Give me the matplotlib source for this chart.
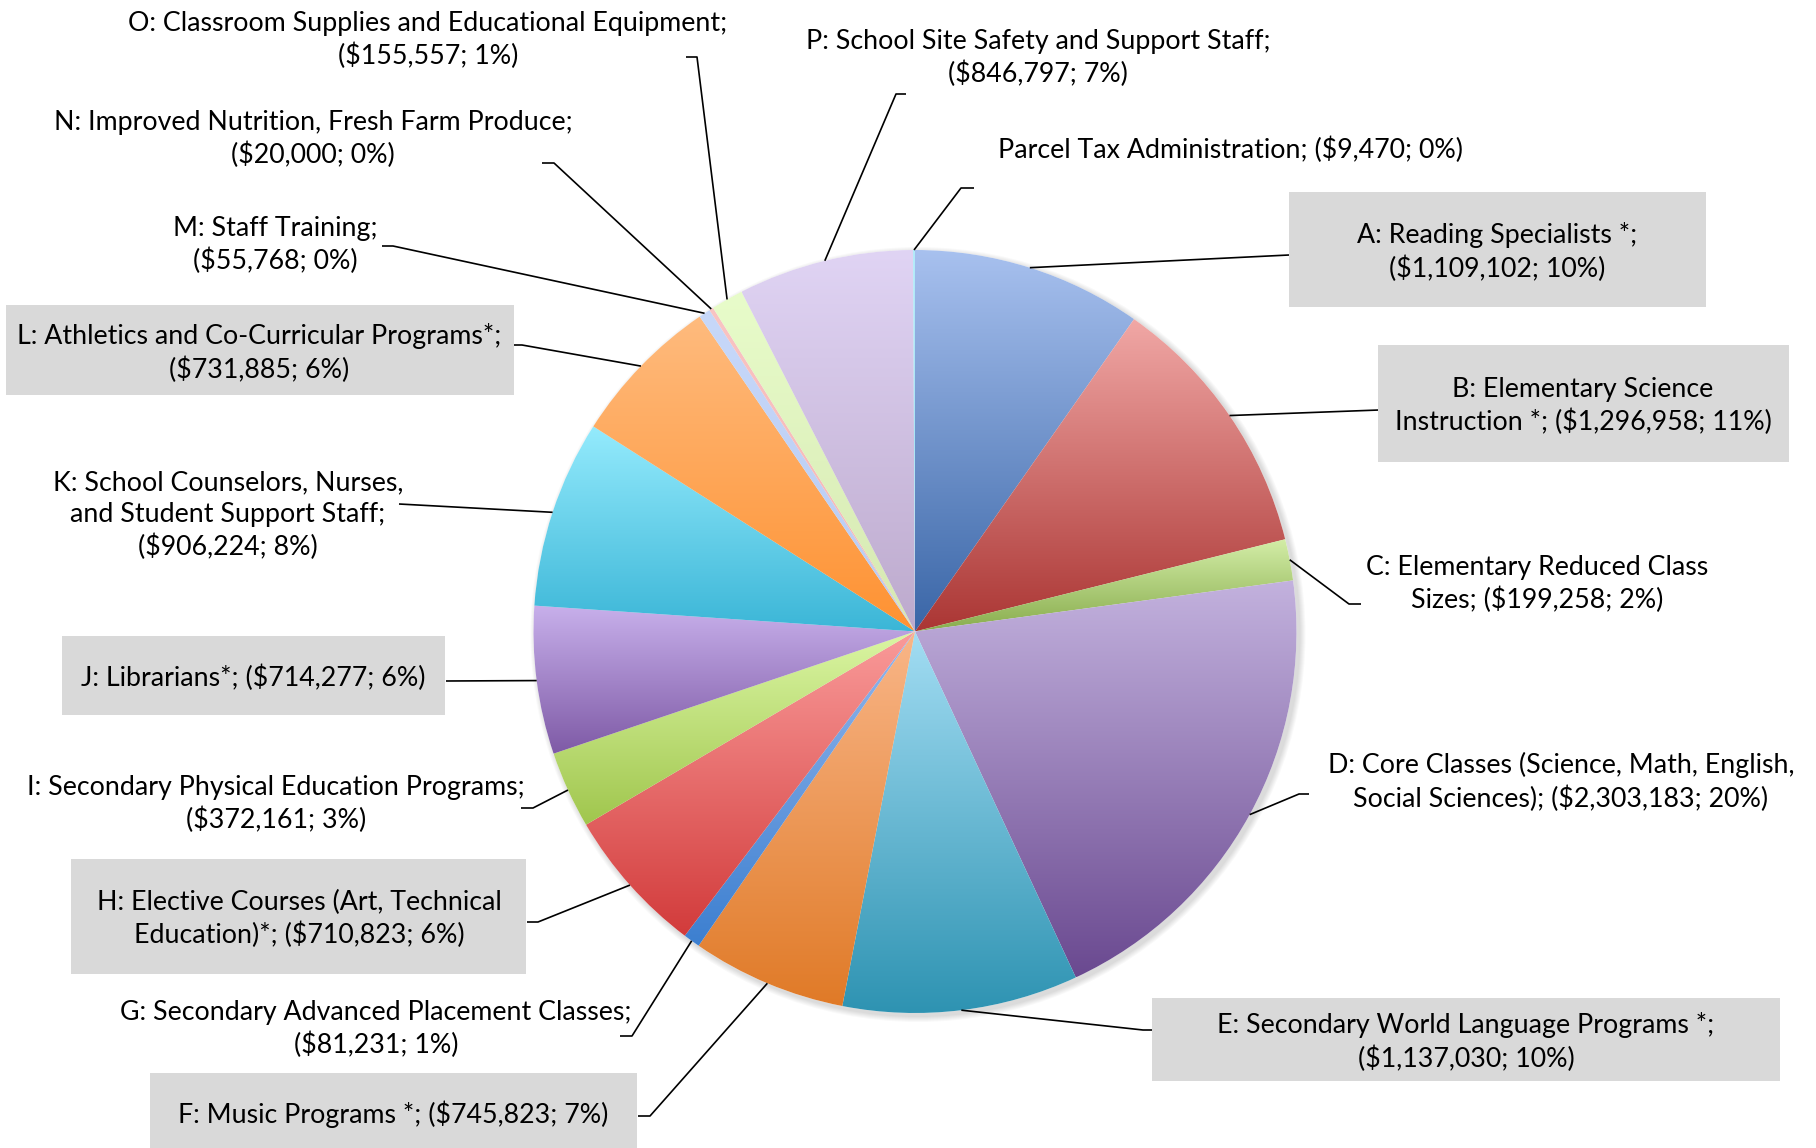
"""Parcel tax allocation pie chart with gradient slices and callout labels."""

import matplotlib

matplotlib.use("Agg")

import matplotlib.pyplot as plt
import numpy as np
from matplotlib.colors import to_rgb
from matplotlib.patches import Circle, Rectangle

W, H = 1816, 1148

# data, in pie order (clockwise from 12 o'clock)
codes = ["A", "B", "C", "D", "E", "F", "G", "H", "I", "J", "K", "L", "M", "N", "O", "P", "Parcel"]
amounts = [1109102, 1296958, 199258, 2303183, 1137030, 745823, 81231, 710823,
           372161, 714277, 906224, 731885, 55768, 20000, 155557, 846797, 9470]
label_fmt = [
    "A: Reading Specialists *;\n({v}; {p})",
    "B: Elementary Science\nInstruction *; ({v}; {p})",
    "C: Elementary Reduced Class\nSizes; ({v}; {p})",
    "D: Core Classes (Science, Math, English,\nSocial Sciences); ({v}; {p})",
    "E: Secondary World Language Programs *;\n({v}; {p})",
    "F: Music Programs *; ({v}; {p})",
    "G: Secondary Advanced Placement Classes;\n({v}; {p})",
    "H: Elective Courses (Art, Technical\nEducation)*; ({v}; {p})",
    "I: Secondary Physical Education Programs;\n({v}; {p})",
    "J: Librarians*; ({v}; {p})",
    "K: School Counselors, Nurses,\nand Student Support Staff;\n({v}; {p})",
    "L: Athletics and Co-Curricular Programs*;\n({v}; {p})",
    "M: Staff Training;\n({v}; {p})",
    "N: Improved Nutrition, Fresh Farm Produce;\n({v}; {p})",
    "O: Classroom Supplies and Educational Equipment;\n({v}; {p})",
    "P: School Site Safety and Support Staff;\n({v}; {p})",
    "Parcel Tax Administration; ({v}; {p})",
]
boxed = ["A", "B", "E", "F", "H", "J", "L"]

# gradient stops (top, bottom) per slice
grad_top = ["#a8c1ef", "#f1a8a6", "#d4eea8", "#c3b2de", "#a3ddf3", "#f9b688", "#94b7ec", "#fa9b9a",
            "#dbf6a4", "#c8b0eb", "#95ebfd", "#ffbb7e", "#c7d8f9", "#f9c4c3", "#e8fcca", "#e0d4f4", "#b3ebfa"]
grad_bot = ["#3a66a7", "#ab3634", "#89ad4e", "#6a4990", "#2e93b2", "#e07a27", "#3c7fd0", "#d23b3b",
            "#a0c64d", "#7e5aa6", "#3bb6d7", "#fe9232", "#b8cbf3", "#f5b5b3", "#d6e8b2", "#bdaacd", "#9fdff0"]

# layout in image pixels (origin top-left)
CX, CY, R = 915, 631.5, 381.5
text_xy = {
    "A": (1497, 252), "B": (1583, 406), "C": (1537, 584), "D": (1561, 782),
    "E": (1466, 1042), "F": (393, 1114), "G": (376, 1029), "H": (299, 919),
    "I": (276, 804), "J": (253, 678), "K": (228, 515), "L": (259, 353),
    "M": (275, 245), "N": (313, 139), "O": (428, 40), "P": (1038, 58),
    "Parcel": (1230, 150),
}
box_xy = {
    "A": (1289, 192, 1706, 307), "B": (1378, 345, 1789, 462), "E": (1152, 998, 1780, 1081),
    "F": (150, 1073, 637, 1150), "H": (71, 859, 526, 974), "J": (62, 636, 445, 715),
    "L": (6, 305, 514, 395),
}
# leader: (elbow, end) ; elbow None -> straight line
leader = {
    "A": (None, (1289, 255)), "B": (None, (1379, 410)),
    "C": ((1349, 604), (1361, 604)), "D": ((1299, 794), (1309, 794)),
    "E": ((1143, 1030), (1152, 1030)), "F": ((650, 1116), (638, 1116)),
    "G": ((632, 1036), (620, 1036)), "H": ((538, 922), (527, 922)),
    "I": ((533, 808), (521, 808)), "J": (None, (446, 681)), "K": (None, (399, 504)),
    "L": ((522, 345), (514, 345)), "M": ((393, 246), (382, 246)),
    "N": ((554, 163), (542, 163)), "O": ((697, 57), (686, 57)),
    "P": ((896, 94), (906, 94)), "Parcel": ((961, 188), (974, 188)),
}

FONT = ["Lato", "DejaVu Sans"]
FS = 19.3


def gradient_fill(ax, wedge, top, bot):
    x0, y0, x1, y1 = wedge.get_path().get_extents().extents
    t = np.linspace(0.0, 1.0, 256)[:, None]
    c0, c1 = np.array(to_rgb(bot)), np.array(to_rgb(top))
    img = (c0 + (c1 - c0) * t)[:, None, :]
    im = ax.imshow(img, extent=(x0, x1, y0, y1), origin="lower", aspect="auto",
                   interpolation="bilinear", zorder=2)
    im.set_clip_path(wedge)


fig = plt.figure(figsize=(W / 100, H / 100), dpi=100)
ax = fig.add_axes([0, 0, 1, 1])

# soft shadow
for k in range(6):
    ax.add_patch(Circle((CX + 3, H - CY - 3), R + 1 + k, color="#000000", alpha=0.025,
                        lw=0, zorder=1))

wedges, _ = ax.pie(amounts, startangle=90, counterclock=False, center=(CX, H - CY), radius=R,
                   colors=grad_top, wedgeprops=dict(linewidth=0))
for w, top, bot in zip(wedges, grad_top, grad_bot):
    w.set_zorder(2)
    w.set_facecolor("white")
    gradient_fill(ax, w, top, bot)

total = sum(amounts)
cum = 0.0
for code, amt, fmt in zip(codes, amounts, label_fmt):
    mid = np.deg2rad(90 - 360 * (cum + amt / 2) / total)
    cum += amt
    sx, sy = CX + R * np.cos(mid), H - CY + R * np.sin(mid)
    elbow, end = leader[code]
    pts = [(sx, sy)]
    if elbow is not None:
        pts.append((elbow[0], H - elbow[1]))
    pts.append((end[0], H - end[1]))
    xs, ys = zip(*pts)
    ax.plot(xs, ys, color="black", lw=1.2, zorder=3, solid_capstyle="butt")

    if code in boxed:
        bx0, by0, bx1, by1 = box_xy[code]
        ax.add_patch(Rectangle((bx0, H - by1), bx1 - bx0, by1 - by0, facecolor="#d9d9d9",
                               edgecolor="none", zorder=3))
    pct = f"{round(100 * amt / total)}%"
    txt = fmt.format(v=f"${amt:,}", p=pct)
    tx, ty = text_xy[code]
    ax.text(tx, H - ty, txt, ha="center", va="center", multialignment="center",
            fontsize=FS, family=FONT, color="black", linespacing=1.33, zorder=4)

ax.set_xlim(0, W)
ax.set_ylim(0, H)
ax.set_aspect("auto")
ax.axis("off")

fig.savefig("out.png", dpi=100, facecolor="white")
